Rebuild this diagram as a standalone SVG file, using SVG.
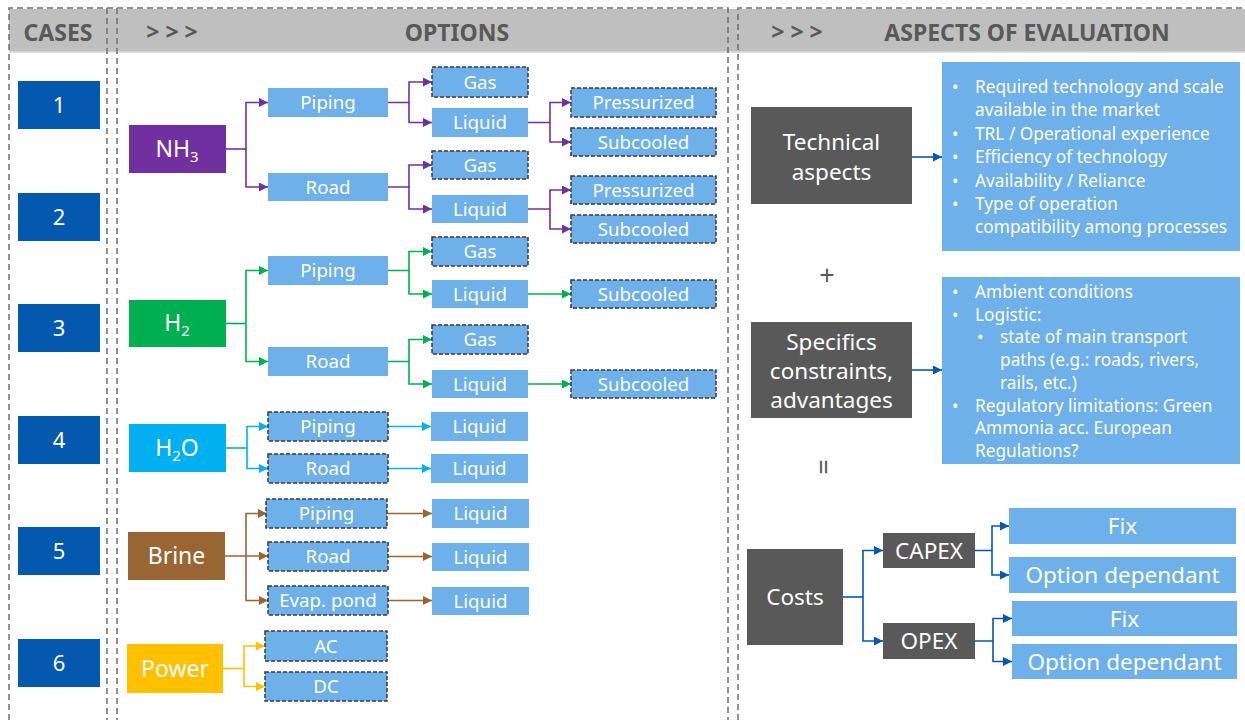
<svg xmlns="http://www.w3.org/2000/svg" width="1245" height="720" viewBox="0 0 1245 720">
<style>
.t{font-family:"Noto Sans","Open Sans",sans-serif;fill:#fff;text-anchor:middle}
.h{font-family:"Noto Sans","Open Sans",sans-serif;fill:#595959;font-weight:bold;font-size:23px}
.o{font-size:18.7px}
.b{font-family:"Noto Sans","Open Sans",sans-serif;fill:#fff;font-size:17.3px}
.lb{fill:#6DB0EA}
.lbd{fill:#6DB0EA;stroke:#3a3a3a;stroke-width:1.5;stroke-dasharray:4 2}
.case{fill:#0458AD}
.dk{fill:#595959}
.sep{stroke:#6f6f6f;stroke-width:1.5;stroke-dasharray:6 4;fill:none}
.c{fill:none;stroke-width:1.6}
</style>
<defs>
<marker id="mP" viewBox="0 0 10 10" refX="10" refY="5" markerWidth="9" markerHeight="9" markerUnits="userSpaceOnUse" orient="auto"><path d="M0,0L10,5L0,10z" fill="#7030A0"/></marker>
<marker id="mG" viewBox="0 0 10 10" refX="10" refY="5" markerWidth="9" markerHeight="9" markerUnits="userSpaceOnUse" orient="auto"><path d="M0,0L10,5L0,10z" fill="#00B050"/></marker>
<marker id="mC" viewBox="0 0 10 10" refX="10" refY="5" markerWidth="9" markerHeight="9" markerUnits="userSpaceOnUse" orient="auto"><path d="M0,0L10,5L0,10z" fill="#00B0F0"/></marker>
<marker id="mB" viewBox="0 0 10 10" refX="10" refY="5" markerWidth="9" markerHeight="9" markerUnits="userSpaceOnUse" orient="auto"><path d="M0,0L10,5L0,10z" fill="#996633"/></marker>
<marker id="mY" viewBox="0 0 10 10" refX="10" refY="5" markerWidth="9" markerHeight="9" markerUnits="userSpaceOnUse" orient="auto"><path d="M0,0L10,5L0,10z" fill="#FFC000"/></marker>
<marker id="mD" viewBox="0 0 10 10" refX="10" refY="5" markerWidth="9" markerHeight="9" markerUnits="userSpaceOnUse" orient="auto"><path d="M0,0L10,5L0,10z" fill="#0458AD"/></marker>
</defs>
<rect width="1245" height="720" fill="#fff"/>
<g id="header">
<rect x="9" y="9" width="1236" height="43" fill="#BFBFBF"/>
<line x1="9" y1="52" x2="1245" y2="52" stroke="#d9d9d9" stroke-width="1.5"/>
<text class="h" x="58" y="41" text-anchor="middle">CASES</text>
<text class="h" x="172" y="40" text-anchor="middle" font-size="19">&gt; &gt; &gt;</text>
<text class="h" x="457" y="41" text-anchor="middle">OPTIONS</text>
<text class="h" x="797" y="40" text-anchor="middle" font-size="19">&gt; &gt; &gt;</text>
<text class="h" x="1027" y="41" text-anchor="middle">ASPECTS OF EVALUATION</text>
</g>
<g id="separators">
<path class="sep" d="M9,720V8H728V720M107,8V720M117,8V720M738,720V8H1245"/>
</g>
<g id="cases">
<g id="case1"><rect class="case" x="18" y="81" width="82" height="48"/><text class="t" x="59" y="113" font-size="22">1</text></g>
<g id="case2"><rect class="case" x="18" y="193" width="82" height="48"/><text class="t" x="59" y="225" font-size="22">2</text></g>
<g id="case3"><rect class="case" x="18" y="304" width="82" height="48"/><text class="t" x="59" y="336" font-size="22">3</text></g>
<g id="case4"><rect class="case" x="18" y="416" width="82" height="48"/><text class="t" x="59" y="448" font-size="22">4</text></g>
<g id="case5"><rect class="case" x="18" y="527" width="82" height="48"/><text class="t" x="59" y="559" font-size="22">5</text></g>
<g id="case6"><rect class="case" x="18" y="639" width="82" height="48"/><text class="t" x="59" y="671" font-size="22">6</text></g>
</g>
<g id="connectors">
<g stroke="#7030A0" class="c">
<path d="M226,149H246"/>
<path d="M246,149V102.5H268" marker-end="url(#mP)"/>
<path d="M246,149V187H268" marker-end="url(#mP)"/>
<path d="M388,102.5H409V82H432" marker-end="url(#mP)"/>
<path d="M409,102.5V122.5H432" marker-end="url(#mP)"/>
<path d="M388,187H409V165H432" marker-end="url(#mP)"/>
<path d="M409,187V209H432" marker-end="url(#mP)"/>
<path d="M528,122.5H550V102.5H571" marker-end="url(#mP)"/>
<path d="M550,122.5V142H571" marker-end="url(#mP)"/>
<path d="M528,209H550V190H571" marker-end="url(#mP)"/>
<path d="M550,209V229H571" marker-end="url(#mP)"/>
</g>
<g stroke="#00B050" class="c">
<path d="M226,323.5H246"/>
<path d="M246,323.5V270.5H268" marker-end="url(#mG)"/>
<path d="M246,323.5V361.5H268" marker-end="url(#mG)"/>
<path d="M388,270.5H409V251.5H432" marker-end="url(#mG)"/>
<path d="M409,270.5V294H432" marker-end="url(#mG)"/>
<path d="M388,361.5H409V339.5H432" marker-end="url(#mG)"/>
<path d="M409,361.5V384H432" marker-end="url(#mG)"/>
<path d="M528,294H571" marker-end="url(#mG)"/>
<path d="M528,384H571" marker-end="url(#mG)"/>
</g>
<g stroke="#00B0F0" class="c">
<path d="M226,448H247"/>
<path d="M247,448V426.5H268" marker-end="url(#mC)"/>
<path d="M247,448V468.5H268" marker-end="url(#mC)"/>
<path d="M388,426.5H431" marker-end="url(#mC)"/>
<path d="M388,468.5H431" marker-end="url(#mC)"/>
</g>
<g stroke="#996633" class="c">
<path d="M225,556H268" marker-end="url(#mB)"/>
<path d="M246,556V513.5H267" marker-end="url(#mB)"/>
<path d="M246,556V600.5H268" marker-end="url(#mB)"/>
<path d="M387,513.5H432" marker-end="url(#mB)"/>
<path d="M388,556.5H432" marker-end="url(#mB)"/>
<path d="M388,600.5H432" marker-end="url(#mB)"/>
</g>
<g stroke="#FFC000" class="c">
<path d="M223,668.5H244"/>
<path d="M244,668.5V646H265" marker-end="url(#mY)"/>
<path d="M244,668.5V686.5H265" marker-end="url(#mY)"/>
</g>
<g stroke="#0458AD" class="c">
<path d="M912,157H942" marker-end="url(#mD)"/>
<path d="M912,370H942" marker-end="url(#mD)"/>
<path d="M843,597H863"/>
<path d="M863,597V550.5H883" marker-end="url(#mD)"/>
<path d="M863,597V641H883" marker-end="url(#mD)"/>
<path d="M975,550.5H992V526H1009" marker-end="url(#mD)"/>
<path d="M992,550.5V575H1009" marker-end="url(#mD)"/>
<path d="M975,641H993V618.5H1012" marker-end="url(#mD)"/>
<path d="M993,641V661.5H1012" marker-end="url(#mD)"/>
</g>
</g>
<g id="nh3">
<g id="nh3-src"><rect x="129" y="125" width="97" height="48" fill="#7030A0"/><text class="t" x="177" y="157" font-size="23">NH<tspan font-size="15" dy="5">3</tspan></text></g>
<g id="nh3-piping"><rect class="lb" x="268" y="88" width="120" height="29"/><text class="t o" x="328" y="109">Piping</text></g>
<g id="nh3-road"><rect class="lb" x="268" y="173" width="120" height="28"/><text class="t o" x="328" y="193.5">Road</text></g>
<g id="nh3-gas1"><rect class="lbd" x="432" y="67" width="96" height="30"/><text class="t o" x="480" y="88.5">Gas</text></g>
<g id="nh3-liq1"><rect class="lb" x="432" y="108" width="96" height="29"/><text class="t o" x="480" y="129">Liquid</text></g>
<g id="nh3-gas2"><rect class="lbd" x="432" y="151" width="96" height="28"/><text class="t o" x="480" y="171.5">Gas</text></g>
<g id="nh3-liq2"><rect class="lb" x="432" y="195" width="96" height="28"/><text class="t o" x="480" y="215.5">Liquid</text></g>
<g id="nh3-pres1"><rect class="lbd" x="571" y="88" width="145" height="29"/><text class="t o" x="643.5" y="109">Pressurized</text></g>
<g id="nh3-sub1"><rect class="lbd" x="571" y="128" width="145" height="28"/><text class="t o" x="643.5" y="148.5">Subcooled</text></g>
<g id="nh3-pres2"><rect class="lbd" x="571" y="176" width="145" height="28"/><text class="t o" x="643.5" y="196.5">Pressurized</text></g>
<g id="nh3-sub2"><rect class="lbd" x="571" y="215" width="145" height="28"/><text class="t o" x="643.5" y="235.5">Subcooled</text></g>
</g>
<g id="h2">
<g id="h2-src"><rect x="129" y="300" width="97" height="47" fill="#00B050"/><text class="t" x="177" y="331" font-size="23">H<tspan font-size="15" dy="5">2</tspan></text></g>
<g id="h2-piping"><rect class="lb" x="268" y="256" width="120" height="29"/><text class="t o" x="328" y="277">Piping</text></g>
<g id="h2-road"><rect class="lb" x="268" y="347" width="120" height="29"/><text class="t o" x="328" y="368">Road</text></g>
<g id="h2-gas1"><rect class="lbd" x="432" y="237" width="96" height="29"/><text class="t o" x="480" y="258">Gas</text></g>
<g id="h2-liq1"><rect class="lb" x="432" y="280" width="96" height="28"/><text class="t o" x="480" y="300.5">Liquid</text></g>
<g id="h2-gas2"><rect class="lbd" x="432" y="325" width="96" height="29"/><text class="t o" x="480" y="346">Gas</text></g>
<g id="h2-liq2"><rect class="lb" x="432" y="370" width="96" height="28"/><text class="t o" x="480" y="390.5">Liquid</text></g>
<g id="h2-sub1"><rect class="lbd" x="571" y="280" width="145" height="28"/><text class="t o" x="643.5" y="300.5">Subcooled</text></g>
<g id="h2-sub2"><rect class="lbd" x="571" y="370" width="145" height="28"/><text class="t o" x="643.5" y="390.5">Subcooled</text></g>
</g>
<g id="h2o">
<g id="h2o-src"><rect x="129" y="424" width="97" height="48" fill="#00B0F0"/><text class="t" x="177" y="456" font-size="23">H<tspan font-size="15" dy="5">2</tspan><tspan dy="-5">O</tspan></text></g>
<g id="h2o-piping"><rect class="lbd" x="268" y="412" width="120" height="29"/><text class="t o" x="328" y="433">Piping</text></g>
<g id="h2o-road"><rect class="lbd" x="268" y="454" width="120" height="29"/><text class="t o" x="328" y="475">Road</text></g>
<g id="h2o-liq1"><rect class="lb" x="431" y="412" width="97" height="29"/><text class="t o" x="479.5" y="433">Liquid</text></g>
<g id="h2o-liq2"><rect class="lb" x="431" y="454" width="97" height="29"/><text class="t o" x="479.5" y="475">Liquid</text></g>
</g>
<g id="brine">
<g id="brine-src"><rect x="128" y="532" width="97" height="48" fill="#996633"/><text class="t" x="176.5" y="564" font-size="23">Brine</text></g>
<g id="brine-piping"><rect class="lbd" x="266" y="499" width="121" height="29"/><text class="t o" x="326.5" y="520">Piping</text></g>
<g id="brine-road"><rect class="lbd" x="268" y="542" width="120" height="29"/><text class="t o" x="328" y="563">Road</text></g>
<g id="brine-evap"><rect class="lbd" x="268" y="586" width="120" height="29"/><text class="t o" x="328" y="607">Evap. pond</text></g>
<g id="brine-liq1"><rect class="lb" x="432" y="499" width="97" height="29"/><text class="t o" x="480.5" y="520">Liquid</text></g>
<g id="brine-liq2"><rect class="lb" x="432" y="543" width="97" height="28"/><text class="t o" x="480.5" y="563.5">Liquid</text></g>
<g id="brine-liq3"><rect class="lb" x="432" y="587" width="97" height="28"/><text class="t o" x="480.5" y="607.5">Liquid</text></g>
</g>
<g id="power">
<g id="power-src"><rect x="127" y="644" width="96" height="49" fill="#FFC000"/><text class="t" x="175" y="676.5" font-size="23">Power</text></g>
<g id="power-ac"><rect class="lbd" x="265" y="631" width="122" height="30"/><text class="t o" x="326" y="652.5">AC</text></g>
<g id="power-dc"><rect class="lbd" x="265" y="672" width="122" height="29"/><text class="t o" x="326" y="693">DC</text></g>
</g>
<g id="technical">
<rect class="dk" x="751" y="107" width="161" height="97"/>
<text class="t" font-size="22.5"><tspan x="831.5" y="150">Technical</tspan><tspan x="831.5" y="180">aspects</tspan></text>
</g>
<g id="technical-list">
<rect class="lb" x="942" y="62" width="298" height="189"/>
<text class="b"><tspan x="952" y="93">•</tspan><tspan x="952" y="139.8">•</tspan><tspan x="952" y="163.2">•</tspan><tspan x="952" y="186.6">•</tspan><tspan x="952" y="210">•</tspan></text>
<text class="b"><tspan x="975" y="93">Required technology and scale</tspan><tspan x="975" y="116.4">available in the market</tspan><tspan x="975" y="139.8">TRL / Operational experience</tspan><tspan x="975" y="163.2">Efficiency of technology</tspan><tspan x="975" y="186.6">Availability / Reliance</tspan><tspan x="975" y="210">Type of operation</tspan><tspan x="975" y="233.4">compatibility among processes</tspan></text>
</g>
<text x="827" y="285" font-family="Noto Sans,sans-serif" font-size="27" fill="#595959" text-anchor="middle">+</text>
<g id="specifics">
<rect class="dk" x="751" y="322" width="161" height="96"/>
<text class="t" font-size="22.5"><tspan x="831.5" y="350">Specifics</tspan><tspan x="831.5" y="379">constraints,</tspan><tspan x="831.5" y="408">advantages</tspan></text>
</g>
<g id="specifics-list">
<rect class="lb" x="942" y="277" width="298" height="187"/>
<text class="b"><tspan x="952" y="298">•</tspan><tspan x="952" y="320.7">•</tspan><tspan x="977" y="343.4">•</tspan><tspan x="952" y="411.5">•</tspan></text>
<text class="b"><tspan x="975" y="298">Ambient conditions</tspan><tspan x="975" y="320.7">Logistic:</tspan><tspan x="1000" y="343.4">state of main transport</tspan><tspan x="1000" y="366.1">paths (e.g.: roads, rivers,</tspan><tspan x="1000" y="388.8">rails, etc.)</tspan><tspan x="975" y="411.5">Regulatory limitations: Green</tspan><tspan x="975" y="434.2">Ammonia acc. European</tspan><tspan x="975" y="456.9">Regulations?</tspan></text>
</g>
<text x="0" y="0" font-family="Noto Sans,sans-serif" font-size="27" fill="#595959" text-anchor="middle" transform="translate(823,467) rotate(90) translate(0,9)">=</text>
<g id="costs"><rect class="dk" x="747" y="549" width="96" height="96"/><text class="t" x="795" y="605" font-size="22.5">Costs</text></g>
<g id="capex"><rect class="dk" x="883" y="533" width="92" height="35"/><text class="t" x="929" y="558.5" font-size="22.5">CAPEX</text></g>
<g id="opex"><rect class="dk" x="883" y="623" width="92" height="36"/><text class="t" x="929" y="649" font-size="22.5">OPEX</text></g>
<g id="capex-fix"><rect class="lb" x="1009" y="508" width="227" height="36"/><text class="t" x="1122.5" y="534" font-size="22.5">Fix</text></g>
<g id="capex-opt"><rect class="lb" x="1009" y="557" width="227" height="36"/><text class="t" x="1122.5" y="583" font-size="22.5">Option dependant</text></g>
<g id="opex-fix"><rect class="lb" x="1012" y="601" width="225" height="35"/><text class="t" x="1124.5" y="626.5" font-size="22.5">Fix</text></g>
<g id="opex-opt"><rect class="lb" x="1012" y="644" width="225" height="35"/><text class="t" x="1124.5" y="669.5" font-size="22.5">Option dependant</text></g>
</svg>
